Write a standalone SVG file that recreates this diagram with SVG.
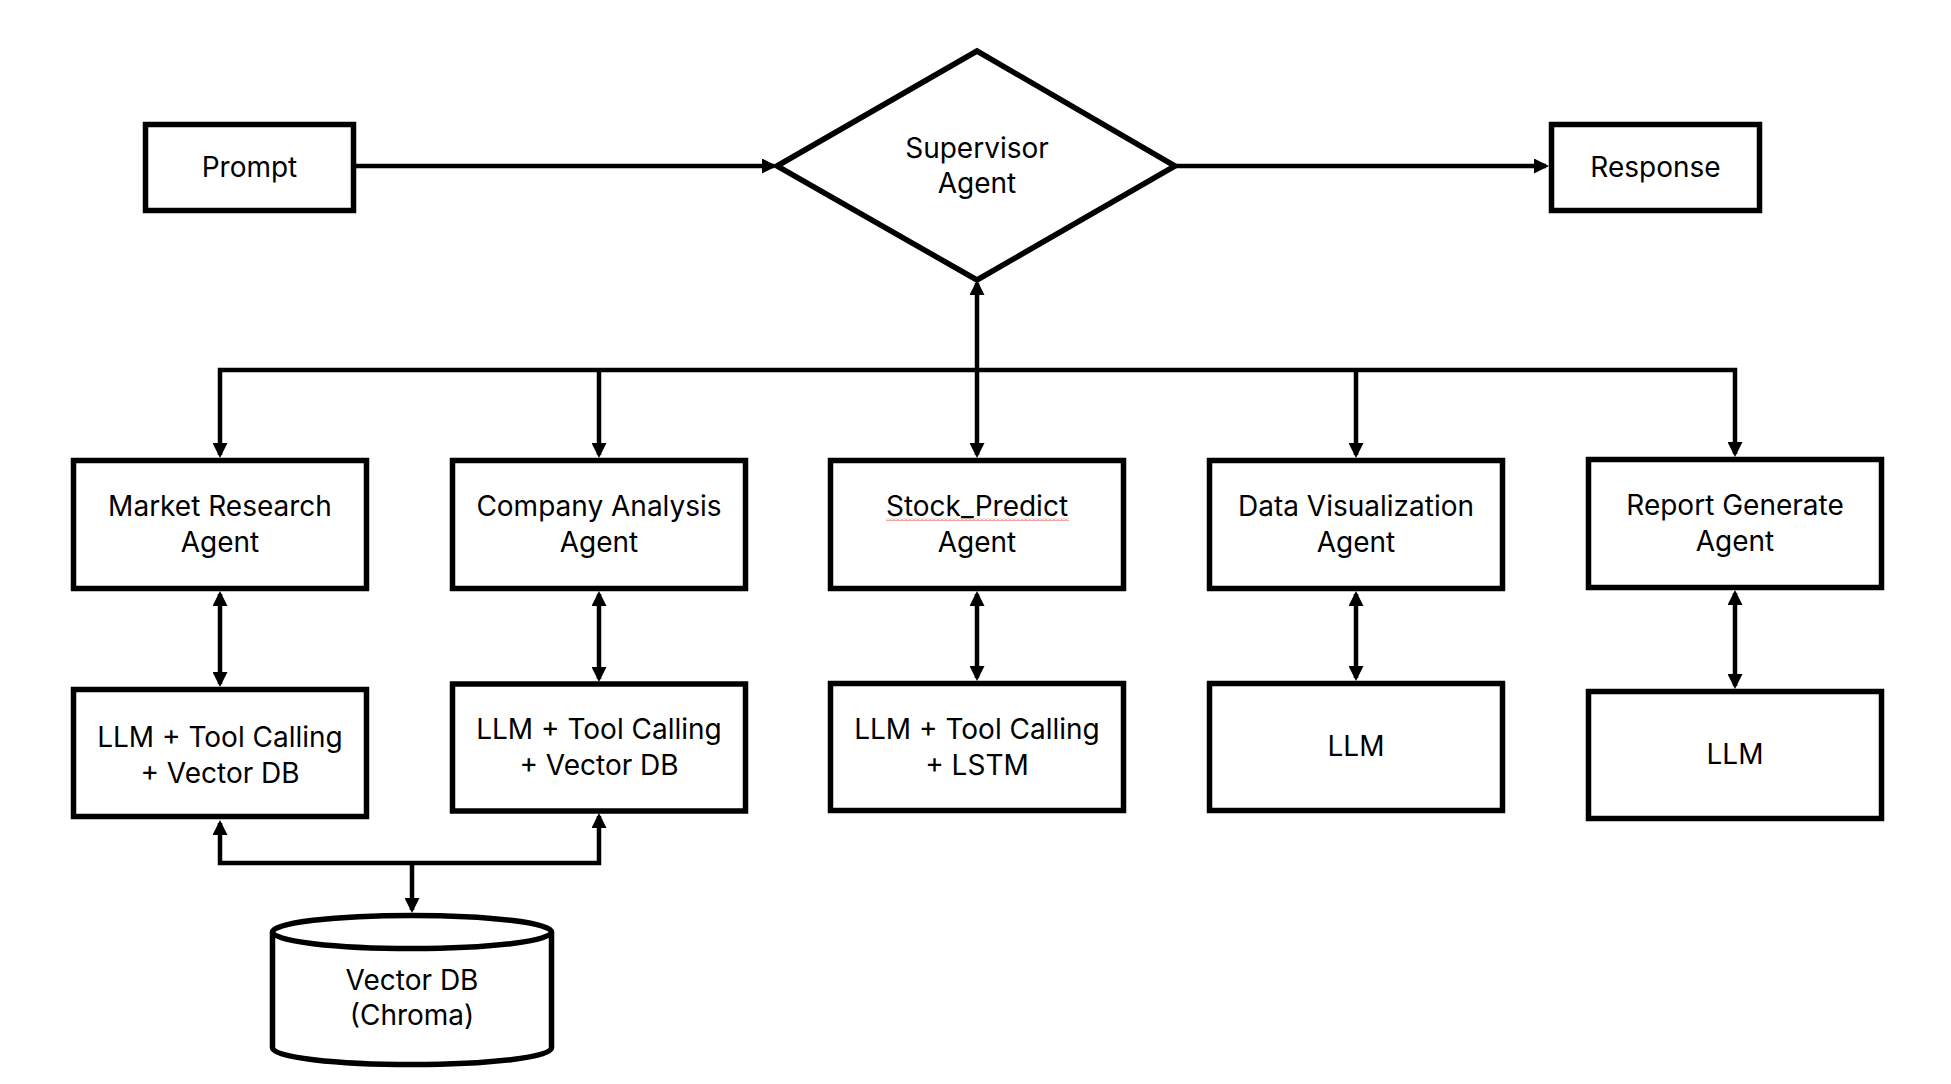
<svg xmlns="http://www.w3.org/2000/svg" width="1951" height="1084" viewBox="0 0 1951 1084">
<style>
.box{fill:#fff;stroke:#000;stroke-width:5.5}
.lbl{font-family:Inter,"Liberation Sans",sans-serif;font-size:28px;fill:#000;text-anchor:middle}
.con{fill:none;stroke:#000;stroke-width:4.5}
.arr{marker-end:url(#ah)}
.bi{marker-start:url(#ah);marker-end:url(#ah)}
</style>
<defs>
<marker id="ah" viewBox="0 0 15 15" refX="12" refY="7.5" markerWidth="15" markerHeight="15" markerUnits="userSpaceOnUse" orient="auto-start-reverse">
<path d="M0,0 L15,7.5 L0,15 z" fill="#000"/>
</marker>
<pattern id="squiggle" x="0" y="0" width="4" height="3" patternUnits="userSpaceOnUse">
<path d="M0,2.5 L2,0.5 L4,2.5" fill="none" stroke="#e0201c" stroke-width="0.8"/>
</pattern>
</defs>
<rect width="1951" height="1084" fill="#fff"/>

<g id="connectors">
<path class="con arr" d="M356,166 H774"/>
<path class="con arr" d="M1175,166 H1546"/>
<path class="con bi" d="M977,283 V455"/>
<path class="con bi" d="M220,455 V370 H1735 V454"/>
<path class="con arr" d="M599,370 V455"/>
<path class="con arr" d="M1356,370 V455"/>
<path class="con bi" d="M220,594 V684"/>
<path class="con bi" d="M599,594 V679"/>
<path class="con bi" d="M977,594 V678"/>
<path class="con bi" d="M1356,594 V678"/>
<path class="con bi" d="M1735,593 V686"/>
<path class="con bi" d="M220,823 V863 H599 V816"/>
<path class="con arr" d="M412,863 V910"/>
</g>

<g id="prompt">
<rect class="box" x="145.5" y="124.5" width="208" height="86"/>
<text class="lbl" x="249.5" y="177">Prompt</text>
</g>

<g id="supervisor">
<polygon class="box" points="777,166 977,51 1175,166 977,280"/>
<text class="lbl" x="977" y="158">Supervisor</text>
<text class="lbl" x="977" y="193">Agent</text>
</g>

<g id="response">
<rect class="box" x="1551.5" y="124.5" width="208" height="86"/>
<text class="lbl" x="1655.5" y="177">Response</text>
</g>

<g id="market-research">
<rect class="box" x="73.5" y="460.5" width="293" height="128"/>
<text class="lbl" x="220" y="516">Market Research</text>
<text class="lbl" x="220" y="552">Agent</text>
</g>

<g id="company-analysis">
<rect class="box" x="452.5" y="460.5" width="293" height="128"/>
<text class="lbl" x="599" y="516">Company Analysis</text>
<text class="lbl" x="599" y="552">Agent</text>
</g>

<g id="stock-predict">
<rect class="box" x="830.5" y="460.5" width="293" height="128"/>
<text class="lbl" x="977" y="516">Stock_Predict</text>
<text class="lbl" x="977" y="552">Agent</text>
<rect x="886" y="518" width="183" height="3" fill="url(#squiggle)"/>
</g>

<g id="data-visualization">
<rect class="box" x="1209.5" y="460.5" width="293" height="128"/>
<text class="lbl" x="1356" y="516">Data Visualization</text>
<text class="lbl" x="1356" y="552">Agent</text>
</g>

<g id="report-generate">
<rect class="box" x="1588.5" y="459.5" width="293" height="128"/>
<text class="lbl" x="1735" y="515">Report Generate</text>
<text class="lbl" x="1735" y="551">Agent</text>
</g>

<g id="llm-market">
<rect class="box" x="73.5" y="689.5" width="293" height="127"/>
<text class="lbl" x="220" y="747">LLM + Tool Calling</text>
<text class="lbl" x="220" y="783">+ Vector DB</text>
</g>

<g id="llm-company">
<rect class="box" x="452.5" y="684" width="293" height="127"/>
<text class="lbl" x="599" y="739">LLM + Tool Calling</text>
<text class="lbl" x="599" y="775">+ Vector DB</text>
</g>

<g id="llm-stock">
<rect class="box" x="830.5" y="683.5" width="293" height="127"/>
<text class="lbl" x="977" y="739">LLM + Tool Calling</text>
<text class="lbl" x="977" y="775">+ LSTM</text>
</g>

<g id="llm-dataviz">
<rect class="box" x="1209.5" y="683.5" width="293" height="127"/>
<text class="lbl" x="1356" y="756">LLM</text>
</g>

<g id="llm-report">
<rect class="box" x="1588.5" y="691.5" width="293" height="127"/>
<text class="lbl" x="1735" y="764">LLM</text>
</g>

<g id="vector-db">
<path class="box" d="M272.5,932 V1048 A139.5,16.5 0 0 0 551.5,1048 V932"/>
<ellipse class="box" cx="412" cy="932" rx="139.5" ry="16.5"/>
<text class="lbl" x="412" y="990">Vector DB</text>
<text class="lbl" x="412" y="1025">(Chroma)</text>
</g>
</svg>
